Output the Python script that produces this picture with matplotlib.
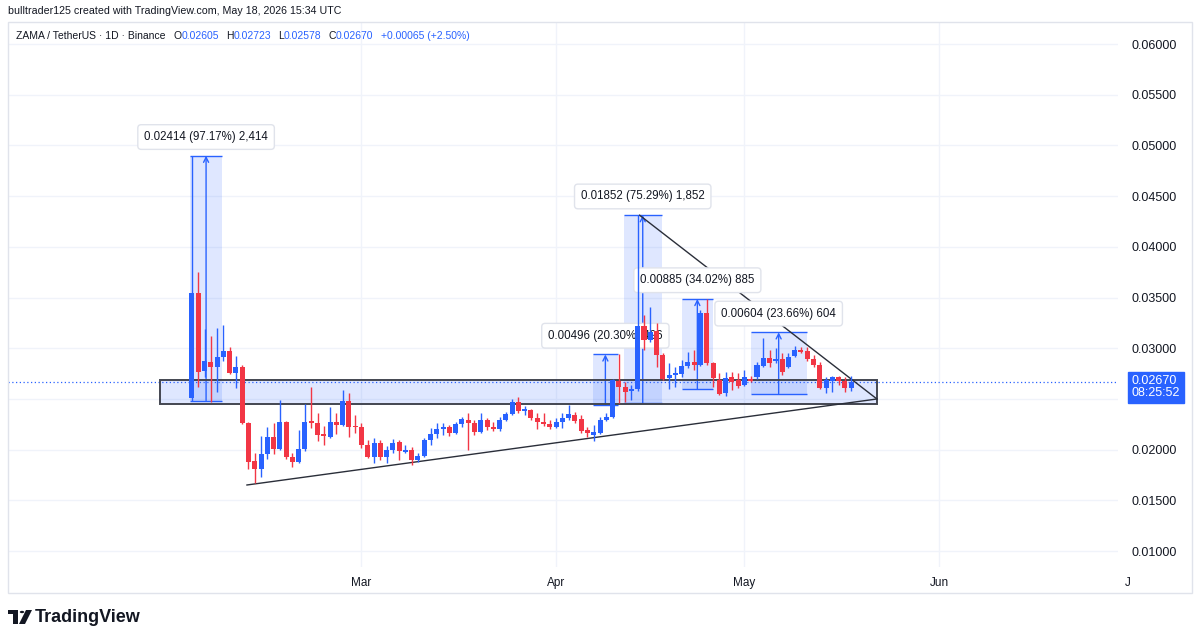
import numpy as np
import pandas as pd
import matplotlib
matplotlib.use('Agg')
import matplotlib.pyplot as plt
from matplotlib.patches import Rectangle, Polygon, Circle

plt.rcParams['font.family'] = ['Liberation Sans', 'DejaVu Sans']

# daily candles, first one is 2026-02-02
start = pd.Timestamp('2026-02-02')
opens = [0.02510, 0.03545, 0.02776, 0.02865, 0.02815, 0.02914, 0.02973, 0.02756, 0.02815, 0.02263,
         0.01889, 0.01810, 0.01958, 0.02125, 0.02007, 0.02273, 0.01928, 0.01879, 0.02007, 0.02283,
         0.02263, 0.02155, 0.02125, 0.02273, 0.02244, 0.02480, 0.02234, 0.02224, 0.02046, 0.01928,
         0.02066, 0.01928, 0.01997, 0.02076, 0.01977, 0.01997, 0.01898, 0.01938, 0.02096, 0.02155,
         0.02204, 0.02224, 0.02165, 0.02253, 0.02293, 0.02263, 0.02175, 0.02293, 0.02224, 0.02204,
         0.02293, 0.02352, 0.02470, 0.02382, 0.02391, 0.02313, 0.02273, 0.02253, 0.02224, 0.02273,
         0.02313, 0.02342, 0.02303, 0.02194, 0.02145, 0.02165, 0.02293, 0.02322, 0.02677, 0.02618,
         0.02579, 0.02599, 0.03220, 0.03082, 0.03170, 0.02934, 0.02707, 0.02736, 0.02746, 0.02825,
         0.02865, 0.02835, 0.03348, 0.02855, 0.02687, 0.02559, 0.02717, 0.02687, 0.02638, 0.02697,
         0.02717, 0.02825, 0.02904, 0.02875, 0.02894, 0.02815, 0.02924, 0.02983, 0.02973, 0.02894,
         0.02835, 0.02608, 0.02677, 0.02717, 0.02677, 0.02605]
highs = [0.04898, 0.03752, 0.03190, 0.03121, 0.03200, 0.03230, 0.03013, 0.02924, 0.02835, 0.02270,
         0.01967, 0.02135, 0.02224, 0.02263, 0.02490, 0.02283, 0.01967, 0.02194, 0.02451, 0.02618,
         0.02362, 0.02234, 0.02421, 0.02362, 0.02589, 0.02559, 0.02342, 0.02263, 0.02096, 0.02115,
         0.02096, 0.02036, 0.02105, 0.02096, 0.02046, 0.02027, 0.01967, 0.02115, 0.02214, 0.02263,
         0.02263, 0.02244, 0.02273, 0.02322, 0.02362, 0.02293, 0.02362, 0.02312, 0.02273, 0.02322,
         0.02372, 0.02500, 0.02520, 0.02431, 0.02401, 0.02362, 0.02362, 0.02293, 0.02313, 0.02362,
         0.02441, 0.02372, 0.02342, 0.02224, 0.02244, 0.02322, 0.02362, 0.02700, 0.02939, 0.02668,
         0.02638, 0.04312, 0.03328, 0.03407, 0.03249, 0.02953, 0.02855, 0.02815, 0.02884, 0.02963,
         0.02983, 0.03377, 0.03486, 0.02865, 0.02756, 0.02766, 0.02766, 0.02756, 0.02786, 0.02727,
         0.02865, 0.03101, 0.02983, 0.03003, 0.02953, 0.02953, 0.03022, 0.03013, 0.03013, 0.02934,
         0.02865, 0.02717, 0.02727, 0.02727, 0.02717, 0.02723]
lows = [0.02484, 0.02618, 0.02717, 0.02470, 0.02569, 0.02875, 0.02746, 0.02608, 0.02255, 0.01810,
        0.01672, 0.01731, 0.01908, 0.01958, 0.01997, 0.01908, 0.01829, 0.01869, 0.01987, 0.02214,
        0.02086, 0.02046, 0.02115, 0.02155, 0.02234, 0.02125, 0.02165, 0.02017, 0.01918, 0.01869,
        0.01898, 0.01869, 0.01967, 0.01898, 0.01967, 0.01849, 0.01879, 0.01928, 0.02046, 0.02115,
        0.02145, 0.02135, 0.02155, 0.02224, 0.01997, 0.02145, 0.02165, 0.02194, 0.02184, 0.02184,
        0.02283, 0.02342, 0.02362, 0.02342, 0.02293, 0.02204, 0.02234, 0.02204, 0.02215, 0.02215,
        0.02293, 0.02263, 0.02165, 0.02125, 0.02086, 0.02155, 0.02283, 0.02312, 0.02460, 0.02470,
        0.02490, 0.02580, 0.02983, 0.03062, 0.02815, 0.02687, 0.02599, 0.02618, 0.02717, 0.02806,
        0.02786, 0.02825, 0.02835, 0.02618, 0.02539, 0.02529, 0.02589, 0.02608, 0.02628, 0.02668,
        0.02697, 0.02815, 0.02815, 0.02855, 0.02736, 0.02806, 0.02914, 0.02953, 0.02875, 0.02815,
        0.02600, 0.02559, 0.02569, 0.02638, 0.02569, 0.02578]
closes = [0.03545, 0.02766, 0.02875, 0.02815, 0.02914, 0.02973, 0.02756, 0.02815, 0.02263, 0.01879,
          0.01810, 0.01958, 0.02125, 0.02007, 0.02273, 0.01928, 0.01879, 0.02007, 0.02273, 0.02263,
          0.02145, 0.02135, 0.02273, 0.02244, 0.02480, 0.02224, 0.02224, 0.02046, 0.01928, 0.02066,
          0.01928, 0.01997, 0.02066, 0.01987, 0.01997, 0.01898, 0.01938, 0.02096, 0.02155, 0.02204,
          0.02224, 0.02165, 0.02253, 0.02303, 0.02263, 0.02175, 0.02293, 0.02224, 0.02204, 0.02293,
          0.02352, 0.02470, 0.02382, 0.02401, 0.02313, 0.02273, 0.02253, 0.02224, 0.02273, 0.02313,
          0.02352, 0.02283, 0.02184, 0.02165, 0.02175, 0.02293, 0.02322, 0.02687, 0.02618, 0.02569,
          0.02599, 0.03220, 0.03082, 0.03160, 0.02934, 0.02697, 0.02736, 0.02756, 0.02825, 0.02865,
          0.02835, 0.03348, 0.02855, 0.02707, 0.02549, 0.02707, 0.02668, 0.02628, 0.02717, 0.02677,
          0.02835, 0.02904, 0.02855, 0.02894, 0.02766, 0.02914, 0.02983, 0.02963, 0.02894, 0.02835,
          0.02608, 0.02687, 0.02717, 0.02677, 0.02608, 0.02670]

# price-range measurements (x in days from start)
meas_x0 = [-0.3, 63.9, 68.8, 78.0, 89.0]
meas_x1 = [4.8, 67.8, 74.8, 83.0, 97.9]
meas_lo = [0.02484, 0.02443, 0.02460, 0.02601, 0.02553]
meas_hi = [0.04898, 0.02939, 0.04312, 0.03486, 0.03157]
meas_labels = ['0.02414 (97.17%) 2,414', '0.00496 (20.30%) 496', '0.01852 (75.29%) 1,852',
               '0.00885 (34.02%) 885', '0.00604 (23.66%) 604']

# support zone and triangle lines
zone_x = [-5.1, 109.1]
zone_lo, zone_hi = 0.0245, 0.0269
lower_x, lower_y = [8.76, 109.1], [0.01652, 0.0250]
upper_x, upper_y = [71.3, 109.1], [0.04312, 0.0250]

last_price = 0.02670
price_ticks = np.arange(0.010, 0.0601, 0.005)
month_names = ['Mar', 'Apr', 'May', 'Jun']
month_days = [(pd.Timestamp(f'2026-{m:02d}-01') - start).days for m in (3, 4, 5, 6)]
july_day = (pd.Timestamp('2026-07-01') - start).days

blue = '#2962ff'
red = '#f23645'
dark = '#131722'

fig = plt.figure(figsize=(12, 6.42), dpi=100)
ax = fig.add_axes([8 / 1200, 75 / 642, 1110 / 1200, 545 / 642])
ax.set_xlim(-29.3, 147.5)
ax.set_ylim(0.008434, 0.062171)
for s in ax.spines.values():
    s.set_visible(False)

ax.set_yticks(price_ticks)
ax.set_yticklabels([f'{v:.5f}' for v in price_ticks])
ax.yaxis.tick_right()
ax.set_xticks(month_days)
ax.set_xticklabels(month_names)
ax.tick_params(axis='y', length=0, pad=9.5, labelsize=9, labelcolor=dark)
ax.tick_params(axis='x', length=0, pad=7, labelsize=8.5, labelcolor=dark)
ax.grid(True, color='#f0f3fa', lw=1, zorder=0)
ax.set_axisbelow(True)
ax.annotate('J', xy=(july_day, 0), xycoords=('data', 'axes fraction'), xytext=(0, -7),
            textcoords='offset points', ha='center', va='top', fontsize=8.5, color=dark,
            annotation_clip=False)

# zone rectangle
ax.add_patch(Rectangle((zone_x[0], zone_lo), zone_x[1] - zone_x[0], zone_hi - zone_lo,
                       facecolor=blue, alpha=0.15, lw=0, zorder=1))
ax.add_patch(Rectangle((zone_x[0], zone_lo), zone_x[1] - zone_x[0], zone_hi - zone_lo,
                       fill=False, edgecolor='#434651', lw=1.4, zorder=3))

# measurement boxes
for x0, x1, lo, hi, lab in zip(meas_x0, meas_x1, meas_lo, meas_hi, meas_labels):
    ax.add_patch(Rectangle((x0, lo), x1 - x0, hi - lo, facecolor=blue, alpha=0.15, lw=0, zorder=1))
    ax.hlines([lo, hi], x0, x1, color=blue, lw=1, zorder=2)
    xc = (x0 + x1) / 2
    ax.annotate('', xy=(xc, hi), xytext=(xc, lo),
                arrowprops=dict(arrowstyle='->', color=blue, lw=1, shrinkA=0, shrinkB=0,
                                mutation_scale=9), zorder=2)
    ax.annotate(lab, xy=(xc, hi), xytext=(0, 13.5), textcoords='offset points',
                ha='center', va='center', fontsize=8.3, color=dark, zorder=4,
                bbox=dict(boxstyle='round,pad=0.55,rounding_size=0.3', fc='white',
                          ec='#e0e3eb', lw=1))

# triangle
ax.plot(lower_x, lower_y, color='#2a2e39', lw=1, zorder=3)
ax.plot(upper_x, upper_y, color='#2a2e39', lw=1, zorder=3)

# candles
x = np.arange(len(opens))
for i in x:
    o, h, l, c = opens[i], highs[i], lows[i], closes[i]
    col = blue if c >= o else red
    ax.vlines(i, l, h, color=col, lw=1, zorder=5)
    ax.bar(i, max(abs(c - o), 0.00004), bottom=min(o, c), width=0.8, color=col, lw=0, zorder=6)

# last price line and label
ax.axhline(last_price, color=blue, lw=0.9, ls=(0, (1, 2)), zorder=2)
ax.annotate(f'{last_price:.5f}\n08:25:52', xy=(1, last_price), xycoords=('axes fraction', 'data'),
            xytext=(10, 4.5), textcoords='offset points', ha='left', va='top',
            fontsize=9, color='white', linespacing=1.0, annotation_clip=False, zorder=10,
            bbox=dict(boxstyle='square,pad=0.3', fc=blue, ec=blue))

# frame
fig.add_artist(Rectangle((8 / 1200, 1 - 593 / 642), 1184 / 1200, 571 / 642,
                         transform=fig.transFigure, fill=False, ec='#e0e3eb', lw=1))

fig.text(8 / 1200, 1 - 11 / 642, 'bulltrader125 created with TradingView.com, May 18, 2026 15:34 UTC',
         fontsize=7.7, color=dark, va='center')

# legend row
fig.canvas.draw()
r = fig.canvas.get_renderer()
parts = [('ZAMA / TetherUS · 1D · Binance', dark, 8), ('O', dark, 0), ('0.02605', blue, 7),
         ('H', dark, 0), ('0.02723', blue, 7), ('L', dark, 0), ('0.02578', blue, 7),
         ('C', dark, 0), ('0.02670', blue, 7), ('+0.00065 (+2.50%)', blue, 0)]
xp = 16
for txt, col, gap in parts:
    t = fig.text(xp / 1200, 1 - 36 / 642, txt, color=col, fontsize=7.5, va='center')
    xp = t.get_window_extent(renderer=r).x1 + gap

# TradingView logo
ft = fig.transFigure
def px(xx, yy):
    return (xx / 1200, 1 - yy / 642)
fig.add_artist(Polygon([px(8, 610), px(18, 610), px(18, 624), px(13, 624), px(13, 614), px(8, 614)],
                       closed=True, transform=ft, fc=dark, ec='none'))
fig.add_artist(Circle(px(22, 612), 2.2 / 1200, transform=ft, fc=dark, ec='none'))
fig.add_artist(Polygon([px(26, 610), px(32, 610), px(25, 624), px(19, 624)],
                       closed=True, transform=ft, fc=dark, ec='none'))
fig.text(35 / 1200, 1 - 617 / 642, 'TradingView', fontsize=13, fontweight='bold', color=dark,
         va='center')

fig.savefig('out.png', dpi=100, facecolor='white')
